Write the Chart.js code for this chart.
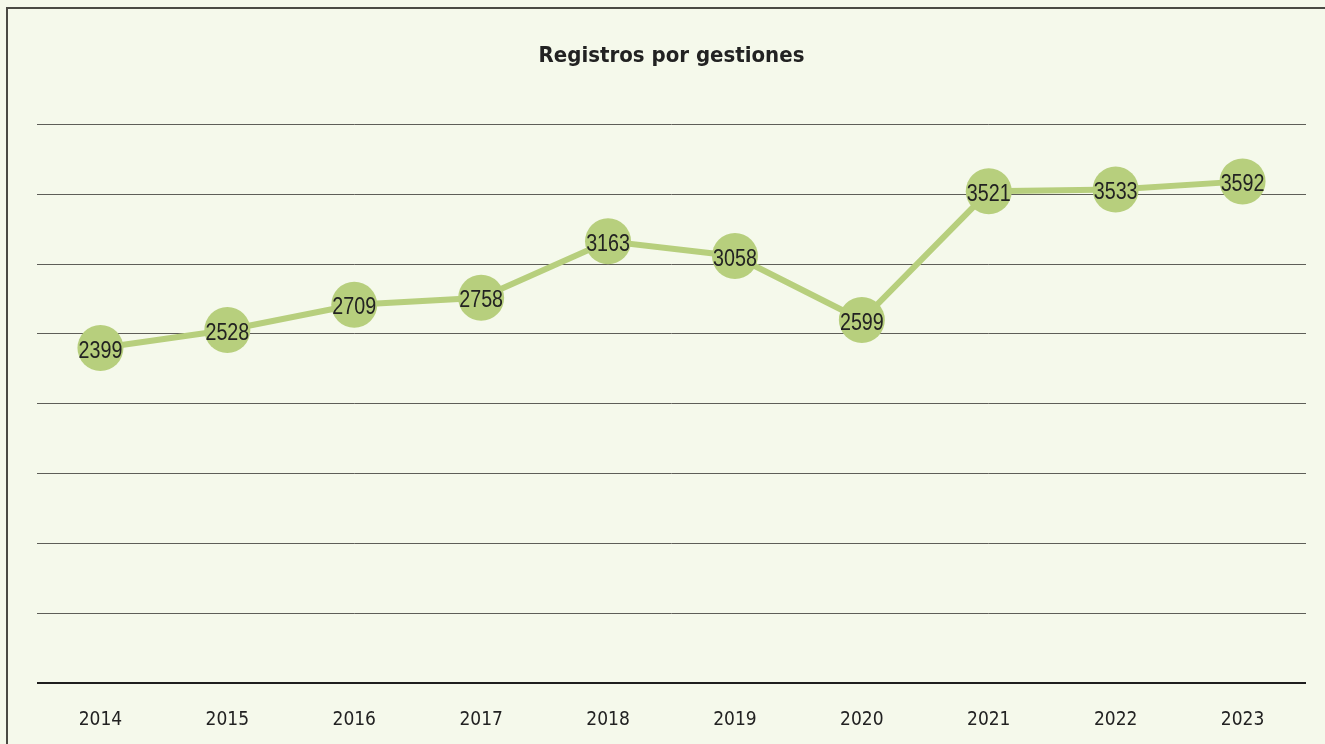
<!DOCTYPE html>
<html>
<head>
<meta charset="utf-8">
<script src="https://cdn.jsdelivr.net/npm/chart.js@4/dist/chart.umd.min.js"></script>
<style>
  html, body { margin: 0; padding: 0; background: #f5f9eb; }
  #wrap { width: 1325px; height: 744px; position: relative; }
</style>
</head>
<body>
<div id="wrap"><canvas id="c" width="1325" height="744"></canvas></div>
<script>
const years = ['2014', '2015', '2016', '2017', '2018', '2019', '2020', '2021', '2022', '2023'];
const registros = [2399, 2528, 2709, 2758, 3163, 3058, 2599, 3521, 3533, 3592];
const yMin = 0, yMax = 4000, yStep = 500;

const FONT = "'DejaVu Sans Condensed', 'Liberation Sans', sans-serif";
const GREEN = '#b7cf7d';

// background + left/top frame
const frame = {
  id: 'frame',
  beforeDraw(chart) {
    const c = chart.ctx;
    c.save();
    c.fillStyle = '#f5f9eb';
    c.fillRect(0, 0, chart.width, chart.height);
    c.strokeStyle = '#4a4a44';
    c.lineWidth = 2;
    c.beginPath();
    c.moveTo(7, chart.height);
    c.lineTo(7, 8);
    c.lineTo(chart.width, 8);
    c.stroke();
    c.restore();
  }
};

// value labels centered on each point (narrow look: squeezed Liberation Sans)
const valueLabels = {
  id: 'valueLabels',
  afterDatasetsDraw(chart) {
    const c = chart.ctx;
    const meta = chart.getDatasetMeta(0);
    const sx = 0.82;
    c.save();
    c.font = "24px 'Liberation Sans', Arial, sans-serif";
    c.fillStyle = '#222';
    c.textAlign = 'center';
    c.textBaseline = 'middle';
    meta.data.forEach((pt, i) => {
      c.save();
      c.translate(pt.x, pt.y + 3);
      c.scale(sx, 1);
      c.fillText(String(registros[i]), 0, 0);
      c.restore();
    });
    c.restore();
  }
};

new Chart(document.getElementById('c'), {
  type: 'line',
  data: {
    labels: years,
    datasets: [{
      data: registros,
      borderColor: GREEN,
      backgroundColor: GREEN,
      borderWidth: 6,
      pointRadius: 23,
      pointHoverRadius: 23,
      pointBorderWidth: 0,
      pointBackgroundColor: GREEN,
      tension: 0
    }]
  },
  options: {
    responsive: false,
    animation: false,
    events: [],
    layout: { autoPadding: false, padding: { left: 37, right: 19, top: 0, bottom: 0 } },
    plugins: {
      legend: { display: false },
      tooltip: { enabled: false },
      title: {
        display: true,
        text: 'Registros por gestiones',
        color: '#222',
        font: { family: FONT, size: 22, weight: 'bold' },
        padding: { top: 43, bottom: 55 }
      }
    },
    scales: {
      x: {
        offset: true,
        grid: { display: false, drawTicks: false },
        border: { display: false },
        ticks: { color: '#222', font: { family: FONT, size: 19 }, padding: 26, maxRotation: 0 },
        afterFit(scale) { scale.height = 61; }
      },
      y: {
        z: 1,
        min: yMin,
        max: yMax,
        ticks: { stepSize: yStep, display: false },
        border: { display: false },
        grid: {
          drawTicks: false,
          color: ctx => ctx.tick && ctx.tick.value === 0 ? '#1e1e1e' : '#5e5e58',
          lineWidth: ctx => ctx.tick && ctx.tick.value === 0 ? 2 : 1
        }
      }
    }
  },
  plugins: [frame, valueLabels]
});
</script>
</body>
</html>
